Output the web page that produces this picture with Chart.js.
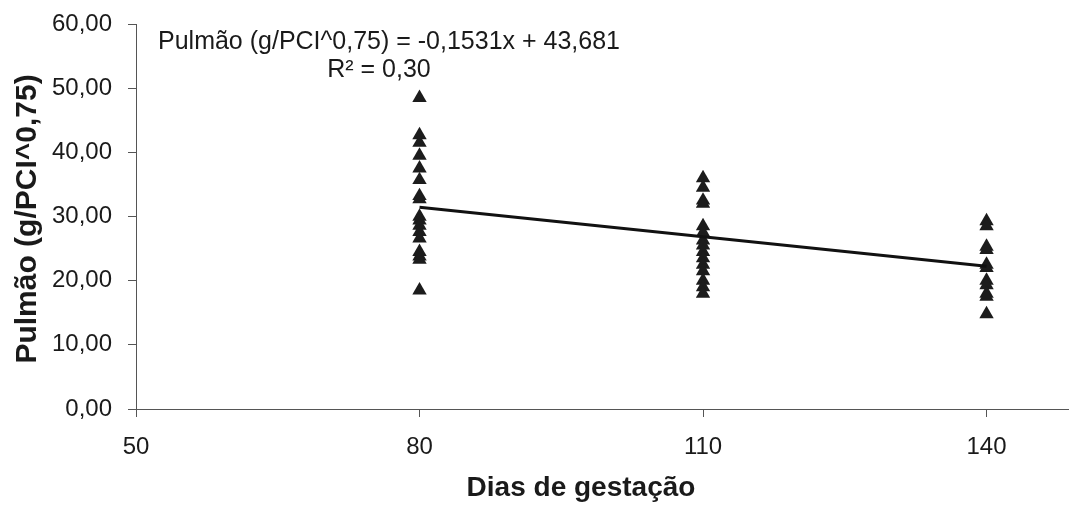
<!DOCTYPE html>
<html>
<head>
<meta charset="utf-8">
<script src="https://cdn.jsdelivr.net/npm/chart.js@4.4.1/dist/chart.umd.min.js"></script>
<style>
  html, body { margin: 0; padding: 0; background: #fff; overflow: hidden; }
  #wrap { width: 1078px; height: 505px; position: relative; }
</style>
</head>
<body>
<div id="wrap"><canvas id="c"></canvas></div>
<script>
// ---- data ----
const days = [80, 110, 140];
const lung80  = [48.5, 42.7, 41.5, 39.5, 37.5, 35.7, 33.2, 32.7, 30.0, 29.4, 28.6, 27.6, 26.6, 24.5, 23.8, 23.3, 18.5];
const lung110 = [36.0, 34.5, 32.5, 32.0, 28.5, 27.5, 26.3, 25.5, 24.5, 23.5, 22.5, 21.5, 20.0, 19.0, 18.0];
const lung140 = [29.3, 28.5, 25.3, 24.8, 22.5, 22.0, 20.0, 19.3, 18.0, 17.5, 14.8];
const slope = -0.1531;
const intercept = 43.681;
const xTicks = [50, 80, 110, 140];
const yTicks = [0, 10, 20, 30, 40, 50, 60];
const eqText = "Pulmão (g/PCI^0,75) = -0,1531x + 43,681";
const r2Text = "R² = 0,30";
const xTitle = "Dias de gestação";
const yTitle = "Pulmão (g/PCI^0,75)";

const groups = [lung80, lung110, lung140];
const scatterPts = [];
groups.forEach((arr, i) => arr.forEach(v => scatterPts.push({ x: days[i], y: v })));
const trendPts = [days[0], days[days.length - 1]].map(x => ({ x: x, y: slope * x + intercept }));

const FONT = "'Liberation Sans', Arial, sans-serif";
const fmt = v => v.toFixed(2).replace('.', ',');

const textPlugin = {
  id: 'texts',
  afterDraw(chart) {
    const ctx = chart.ctx;
    ctx.save();
    ctx.fillStyle = '#1a1a1a';
    ctx.textAlign = 'center';
    ctx.textBaseline = 'middle';
    ctx.font = "25px " + FONT;
    ctx.fillText(eqText, 389, 42);
    ctx.fillText(r2Text, 379, 70);
    ctx.font = "bold 28px " + FONT;
    ctx.fillText(xTitle, 581, 488);
    ctx.font = "bold 30px " + FONT;
    ctx.translate(28, 219);
    ctx.rotate(-Math.PI / 2);
    ctx.fillText(yTitle, 0, 0);
    ctx.restore();
  }
};

new Chart(document.getElementById('c'), {
  type: 'scatter',
  data: {
    datasets: [
      {
        label: 'Pulmão',
        data: scatterPts,
        pointStyle: 'triangle',
        pointRadius: 8.3,
        pointHoverRadius: 8.3,
        backgroundColor: '#1c1c1c',
        borderColor: '#1c1c1c',
        borderWidth: 0,
        order: 2
      },
      {
        label: 'Linear',
        data: trendPts,
        showLine: true,
        borderColor: '#111',
        borderWidth: 3,
        pointRadius: 0,
        fill: false,
        order: 1
      }
    ]
  },
  options: {
    responsive: true,
    maintainAspectRatio: false,
    animation: false,
    events: [],
    layout: { padding: { top: 24, right: 0, left: 0, bottom: 0 } },
    plugins: { legend: { display: false }, tooltip: { enabled: false } },
    scales: {
      x: {
        type: 'linear',
        min: 50,
        max: 148.8,
        afterBuildTicks: s => { s.ticks = xTicks.map(v => ({ value: v })); },
        afterFit: s => { s.height = 96; s.paddingLeft = 0; s.paddingRight = 0; },
        ticks: { color: '#1a1a1a', font: { family: FONT, size: 24 }, padding: 16, callback: v => String(v) },
        grid: { display: true, drawOnChartArea: false, drawTicks: true, tickLength: 8, color: '#555' },
        border: { display: true, color: '#555', width: 1 }
      },
      y: {
        type: 'linear',
        min: 0,
        max: 60,
        afterBuildTicks: s => { s.ticks = yTicks.map(v => ({ value: v })); },
        afterFit: s => { s.width = 136; s.paddingTop = 0; s.paddingBottom = 0; },
        ticks: { color: '#1a1a1a', font: { family: FONT, size: 24 }, padding: 16, callback: v => fmt(v) },
        grid: { display: true, drawOnChartArea: false, drawTicks: true, tickLength: 8, color: '#555' },
        border: { display: true, color: '#555', width: 1 }
      }
    }
  },
  plugins: [textPlugin]
});
</script>
</body>
</html>
